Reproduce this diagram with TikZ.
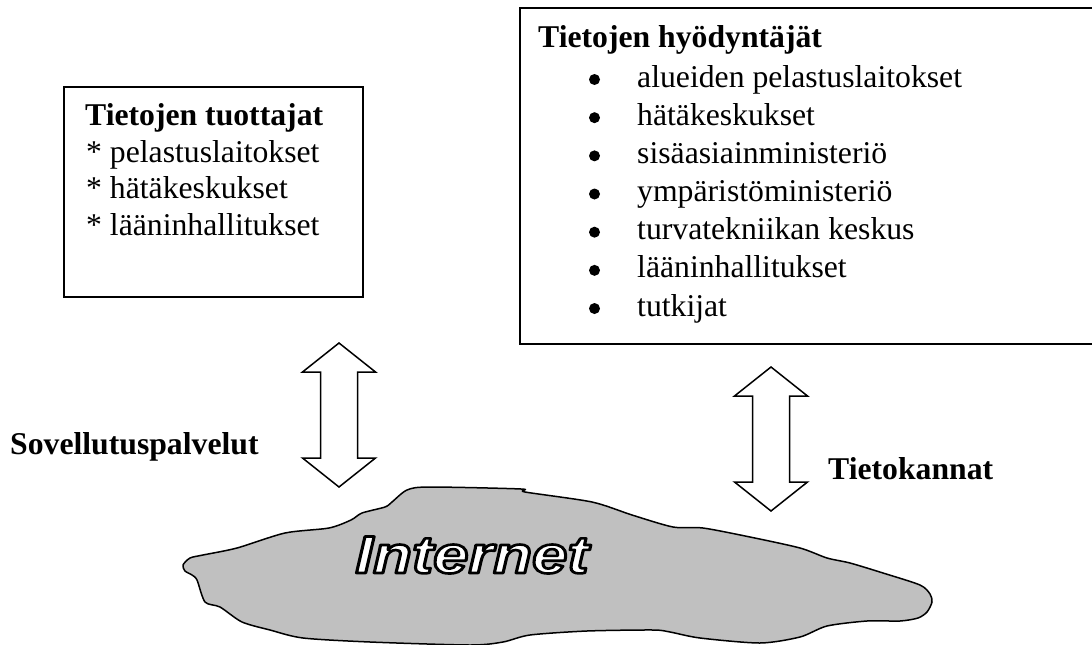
\documentclass[tikz,border=0pt]{standalone}
\usepackage{fontspec}
\setmainfont{Liberation Serif}
\newfontfamily\netfont{Liberation Sans}
\definecolor{cloudgray}{RGB}{192,192,192}
% white letters with a black outline (PDF text render mode 2)
\newcommand\outlined[2]{{\color{white}%
  \special{pdf:literal direct 2 Tr #1 w 0 G 1 j}#2\special{pdf:literal direct 0 Tr}}}

\begin{document}
\begin{tikzpicture}[x=1pt,y=-1pt,
  txt/.style={inner sep=0pt, anchor=base west, font=\fontsize{31.7}{38}\selectfont},
  headtxt/.style={txt, font=\fontsize{31.7}{38}\selectfont\bfseries},
  frame/.style={draw, line width=1.8pt, inner sep=0pt, anchor=north west},
  dot/.style={circle, fill, inner sep=0pt, minimum size=11pt},
  blockarrow/.style={draw, line width=1.5pt, fill=white, line join=miter},
  cloudshape/.style={draw, line width=1.5pt, fill=cloudgray, line join=round},
  updown/.pic={
    \draw[blockarrow] (0,-72) -- (36.5,-43) -- (18.5,-43) -- (18.5,43)
      -- (36.5,43) -- (0,72) -- (-36.5,43) -- (-18.5,43) -- (-18.5,-43)
      -- (-36.5,-43) -- cycle;
  }]

\useasboundingbox (0,0) rectangle (1092,645);
\clip (0,0) rectangle (1092,645);

% producers of the data
\node[frame, minimum width=299pt, minimum height=210pt] (producers) at (63,86) {};
\node[headtxt] (ptitle) at (85,125) {Tietojen tuottajat};
\node[txt] (p1) at (86,162) {* pelastuslaitokset};
\node[txt] (p2) at (86,198.5) {* hätäkeskukset};
\node[txt] (p3) at (86,235) {* lääninhallitukset};

% users of the data (box runs past the right edge)
\node[frame, minimum width=600pt, minimum height=336pt] (users) at (519,7) {};
\node[headtxt] (utitle) at (538,47) {Tietojen hyödyntäjät};
\foreach \t [count=\i from 0] in {alueiden pelastuslaitokset, hätäkeskukset,
    sisäasiainministeriö, ympäristöministeriö, turvatekniikan keskus,
    lääninhallitukset, tutkijat} {
  \node[dot] (b\i) at (594.5, 79.5+38.17*\i) {};
  \node[txt] (u\i) at (637, 87+38.17*\i) {\t};
}

% the Internet cloud
\draw[cloudshape] plot[smooth cycle, tension=0.45] coordinates {
  (183,565) (190,558) (203,555) (237,548) (285,533) (329,528) (351,520)
  (362,513) (385,507) (392,502) (407,490) (429,487) (521,489) (525,492)
  (592,502) (632,515) (673,527) (703,528) (750,537) (800,548) (827,558)
  (850,563) (883,573) (920,585) (930,594) (932,602) (927,612) (918,618)
  (900,621) (867,621) (827,626) (800,637) (760,643) (700,638) (670,632)
  (653,630) (587,631) (530,635) (503,642) (470,645) (370,642) (303,638)
  (270,630) (242,622) (220,607) (205,602) (197,580) (192,575) (185,571)};
\node[inner sep=0pt, anchor=base] (net) at (472,573)
  {\scalebox{1.2}[1]{\netfont\bfseries\itshape\fontsize{53}{60}\selectfont
   \outlined{2.6}{Internet}}};

% two-way block arrows with their labels
\pic at (339,415) {updown};
\pic at (771,439) {updown};
\node[headtxt] (apps) at (10,454) {Sovellutuspalvelut};
\node[headtxt] (dbs) at (828,479) {Tietokannat};
\end{tikzpicture}
\end{document}
